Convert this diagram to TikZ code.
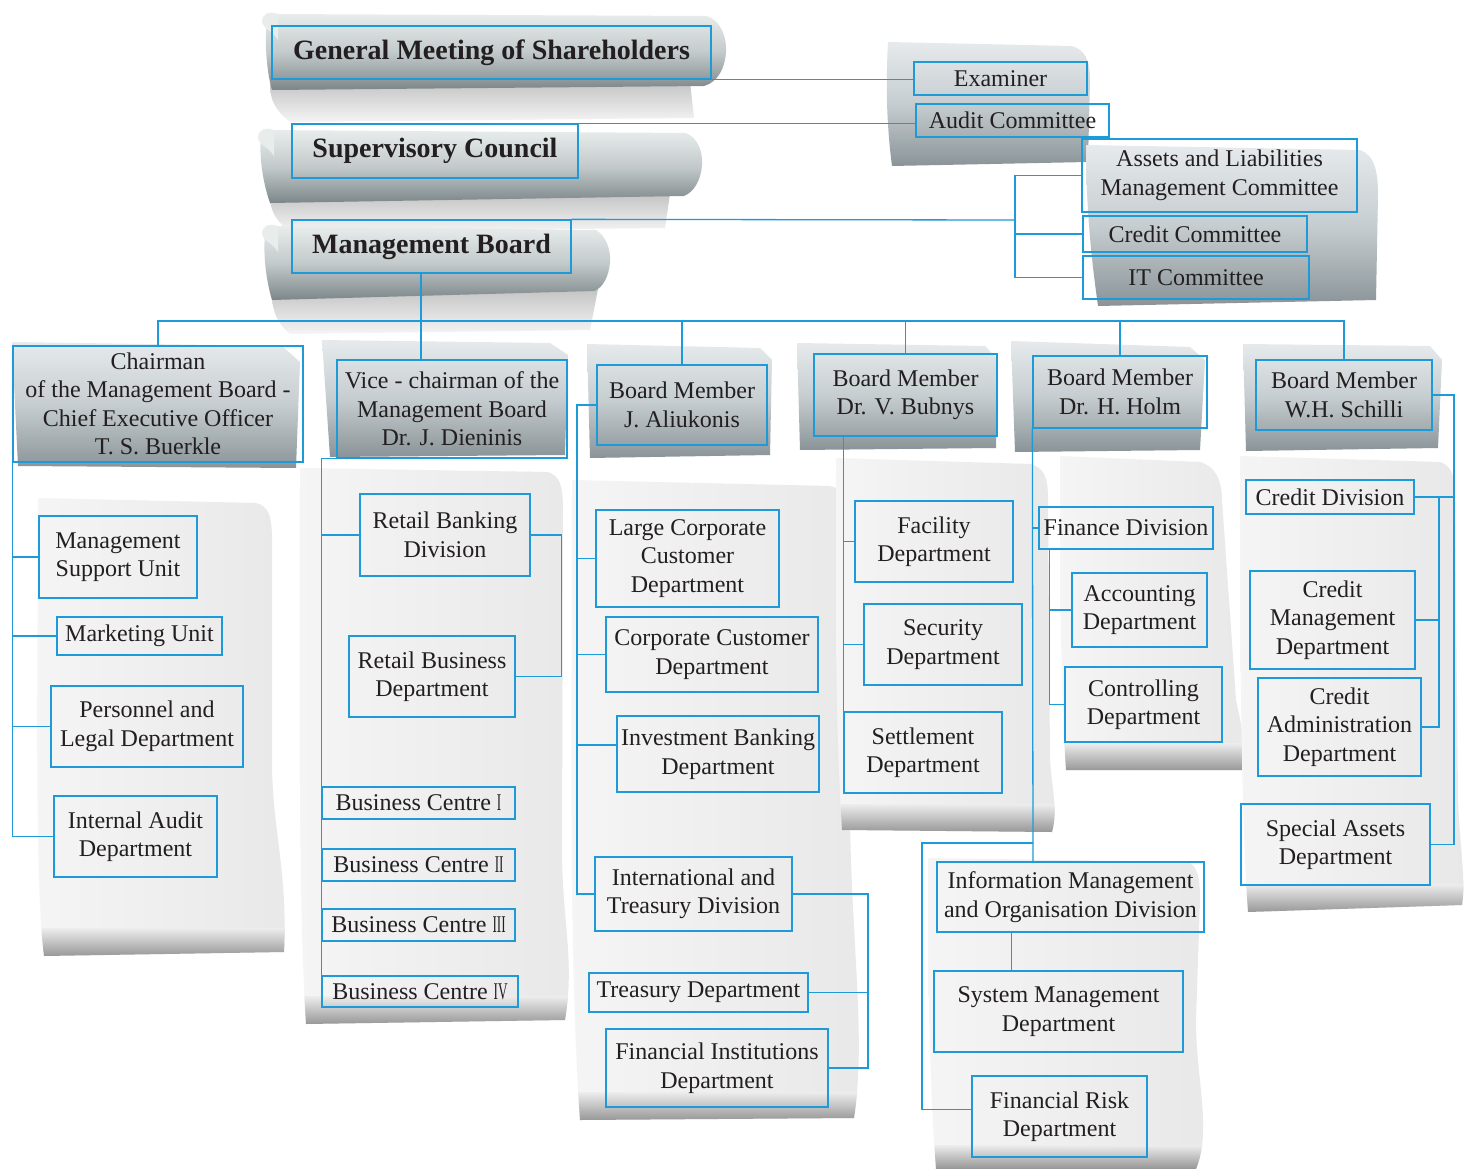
\documentclass[tikz,border=0pt]{standalone}
\usepackage{fontspec}
\usepackage{graphicx}
\setmainfont{Liberation Serif}
\definecolor{lb}{RGB}{28,155,216}
\definecolor{txt}{RGB}{35,31,32}
\definecolor{tubeT}{HTML}{E8EDEC}
\definecolor{tubeM}{HTML}{C3CACB}
\definecolor{tubeB}{HTML}{7C8689}
\definecolor{hdrT}{HTML}{E6EAEC}
\definecolor{hdrM}{HTML}{C6CDD0}
\definecolor{hdrB}{HTML}{8A9498}
\definecolor{papL}{HTML}{F5F5F5}
\definecolor{papR}{HTML}{E8E8E8}
\definecolor{pap}{HTML}{EDEDED}
\definecolor{papD}{HTML}{959595}
\definecolor{shd}{HTML}{C4C4C4}
\newcommand\regf{\fontsize{24}{28.5}\selectfont}
\newcommand\titf{\fontsize{28}{33}\selectfont\bfseries}
\newcommand\rn[1]{\scalebox{0.55}[1]{#1}}
\begin{document}
\begin{tikzpicture}[x=1pt,y=-1pt,
  box/.style={draw=lb, line width=1.3pt, align=center, inner sep=0pt, text=txt, font=\regf},
  tb/.style={box, font=\titf},
  wh/.style 2 args={minimum width=#1pt, minimum height=#2pt},
  conn/.style={draw=lb, line width=1.3pt},
  tube/.style={top color=tubeT, bottom color=tubeB, middle color=tubeM},
  hdr/.style={top color=hdrT, bottom color=hdrB, middle color=hdrM},
  shadow/.style={top color=shd, bottom color=white!92!gray},
  band/.style={top color=pap, bottom color=papD}]
\useasboundingbox (0,0) rectangle (1466,1169);
\fill[white] (0,0) rectangle (1466,1169);

% ---------- tube scrolls (top) ----------
\shade[shadow] (270,84) -- (690,82) -- (694,118) -- (290,122) .. controls (275,110) and (270,100) .. (270,84) -- cycle;
\shade[tube] (268,14) -- (706,16) .. controls (722,20) and (727,40) .. (726,52) .. controls (725,68) and (718,82) .. (704,86) -- (272,90) .. controls (266,70) and (264,35) .. (268,14) -- cycle;
\fill[tubeT] (262,22) .. controls (262,13) and (270,11) .. (278,14) -- (278,40) .. controls (272,30) and (264,30) .. (262,22) -- cycle;

\shade[shadow] (270,196) -- (670,194) -- (665,228) -- (290,232) .. controls (275,220) and (270,210) .. (270,196) -- cycle;
\shade[tube] (262,130) -- (686,133) .. controls (698,138) and (703,152) .. (702,165) .. controls (701,180) and (694,192) .. (684,196) -- (270,203) .. controls (262,180) and (258,150) .. (262,130) -- cycle;
\fill[tubeT] (258,138) .. controls (258,129) and (266,127) .. (274,130) -- (274,156) .. controls (268,146) and (260,146) .. (258,138) -- cycle;

\shade[shadow] (272,293) -- (598,289) -- (590,330) -- (290,334) .. controls (276,322) and (272,310) .. (272,293) -- cycle;
\shade[tube] (266,226) -- (596,230) .. controls (606,236) and (611,250) .. (610,262) .. controls (609,276) and (603,288) .. (594,291) -- (272,300) .. controls (266,280) and (262,250) .. (266,226) -- cycle;
\fill[tubeT] (262,234) .. controls (262,225) and (270,223) .. (278,226) -- (278,252) .. controls (272,242) and (264,242) .. (262,234) -- cycle;

% ---------- top right panels ----------
\shade[hdr] (888,42) -- (1072,46) .. controls (1085,50) and (1090,60) .. (1090,80) -- (1088,162) -- (892,166) .. controls (886,120) and (886,80) .. (888,42) -- cycle;
\shade[hdr] (1086,145) -- (1360,150) .. controls (1374,155) and (1378,170) .. (1378,195) -- (1376,300) -- (1098,306) .. controls (1090,250) and (1086,200) .. (1086,145) -- cycle;

% ---------- level-2 headers ----------
\shade[hdr] (12,342) -- (282,346) -- (300,362) -- (296,468) -- (18,466) -- cycle;
\shade[hdr] (322,340) -- (550,343) -- (568,355) -- (565,455) -- (330,457) -- cycle;
\shade[hdr] (587,344) -- (760,348) -- (772,360) -- (770,455) -- (590,458) -- cycle;
\shade[hdr] (797,343) -- (985,346) -- (998,360) -- (996,448) -- (800,450) -- cycle;
\shade[hdr] (1011,341) -- (1190,347) -- (1205,360) -- (1200,450) -- (1015,452) -- cycle;
\shade[hdr] (1243,344) -- (1430,346) -- (1442,360) -- (1438,448) -- (1246,451) -- cycle;

% ---------- column papers ----------
\begin{scope}
\clip (38,498) -- (256,503) .. controls (268,506) and (272,515) .. (272,540) -- (272,760) .. controls (272,830) and (288,870) .. (284,952) -- (44,956) .. controls (34,880) and (38,650) .. (38,498) -- cycle;
\shade[left color=papL, right color=papR] (30,490) rectangle (295,960);
\shade[band] (30,928) rectangle (295,957);
\end{scope}
\begin{scope}
\clip (300,468) -- (548,472) .. controls (560,476) and (563,486) .. (563,510) -- (562,850) .. controls (562,920) and (575,960) .. (565,1020) -- (306,1024) .. controls (298,900) and (300,700) .. (300,468) -- cycle;
\shade[left color=papL, right color=papR] (295,460) rectangle (580,1030);
\shade[band] (295,996) rectangle (580,1025);
\end{scope}
\begin{scope}
\clip (572,480) -- (830,486) .. controls (846,490) and (850,500) .. (850,530) -- (850,820) .. controls (852,950) and (866,1040) .. (854,1118) -- (580,1120) .. controls (568,950) and (572,700) .. (572,480) -- cycle;
\shade[left color=papL, right color=papR] (565,475) rectangle (870,1125);
\shade[band] (565,1092) rectangle (870,1121);
\end{scope}
\begin{scope}
\clip (836,458) -- (1030,464) .. controls (1045,468) and (1048,478) .. (1048,500) -- (1050,760) .. controls (1052,790) and (1058,810) .. (1052,832) -- (842,830) .. controls (834,700) and (836,560) .. (836,458) -- cycle;
\shade[left color=papL, right color=papR] (830,450) rectangle (1060,835);
\shade[band] (830,804) rectangle (1060,833);
\end{scope}
\begin{scope}
\clip (1060,456) -- (1200,462) .. controls (1215,466) and (1222,480) .. (1222,500) -- (1236,700) .. controls (1242,730) and (1248,750) .. (1242,770) -- (1066,770) .. controls (1060,680) and (1060,560) .. (1060,456) -- cycle;
\shade[left color=papL, right color=papR] (1055,450) rectangle (1250,775);
\shade[band] (1055,743) rectangle (1250,771);
\end{scope}
\begin{scope}
\clip (928,858) -- (1188,862) .. controls (1198,866) and (1200,880) .. (1200,900) -- (1196,1020) .. controls (1196,1080) and (1212,1130) .. (1196,1169) -- (936,1169) .. controls (928,1060) and (928,960) .. (928,858) -- cycle;
\shade[left color=papL, right color=papR] (920,850) rectangle (1215,1169);
\shade[band] (920,1145) rectangle (1215,1169);
\end{scope}
\begin{scope}
\clip (1240,456) -- (1440,462) .. controls (1452,466) and (1455,476) .. (1455,500) -- (1458,800) .. controls (1460,850) and (1466,880) .. (1462,905) -- (1248,912) .. controls (1240,800) and (1240,600) .. (1240,456) -- cycle;
\shade[left color=papL, right color=papR] (1235,450) rectangle (1466,915);
\shade[band] (1235,884) rectangle (1466,913);
\end{scope}

% ---------- nodes ----------
\node[tb, wh={439}{53}] (gm) at (491.5,52.5) {General Meeting of Shareholders};
\node[tb, wh={286}{54}] (sc) at (435,151) {Supervisory Council};
\node[tb, wh={279}{53}] (mb) at (431.5,246.5) {Management Board};
\node[box, wh={173}{33}] (ex) at (1000.5,78.5) {Examiner};
\node[box, wh={193}{33}] (ac) at (1012.5,120.5) {Audit Committee};
\node[box, wh={275}{73}] (alco) at (1219.5,175.5) {Assets and Liabilities\\Management Committee};
\node[box, wh={224}{36}] (cc) at (1195,234) {Credit Committee};
\node[box, wh={226}{43}] (itc) at (1196,277.5) {IT Committee};

\node[box, wh={290}{116}] (ch) at (158,404) {Chairman\\of the Management Board -\\Chief Executive Officer\\T. S. Buerkle};
\node[box, wh={230}{98}] (vc) at (452,409) {Vice - chairman of the\\Management Board\\Dr. J. Dieninis};
\node[box, wh={170}{80}] (al) at (682,405) {Board Member\\J. Aliukonis};
\node[box, wh={183}{82}] (bu) at (905.5,395) {Board Member\\Dr. V. Bubnys};
\node[box, wh={174}{72}] (ho) at (1120,392) {Board Member\\Dr. H. Holm};
\node[box, wh={176}{70}] (sch) at (1344,395) {Board Member\\W.H. Schilli};

\node[box, wh={158}{82}] (msu) at (118,557) {Management\\Support Unit};
\node[box, wh={165}{38}] (mu) at (139.5,636) {Marketing Unit};
\node[box, wh={192}{81}] (pl) at (147,726.5) {Personnel and\\Legal Department};
\node[box, wh={163}{81}] (ia) at (135.5,836.5) {Internal Audit\\Department};

\node[box, wh={170}{82}] (rbd) at (445,535) {Retail Banking\\Division};
\node[box, wh={166}{81}] (rbu) at (432,676.5) {Retail Business\\Department};
\node[box, wh={193}{32}] (bc1) at (418.5,803) {Business Centre \rn{I}};
\node[box, wh={193}{32}] (bc2) at (418.5,865) {Business Centre \rn{II}};
\node[box, wh={193}{32}] (bc3) at (418.5,925) {Business Centre \rn{III}};
\node[box, wh={196}{31}] (bc4) at (420,991.5) {Business Centre \rn{IV}};

\node[box, wh={183}{97}] (lcc) at (687.5,558.5) {Large Corporate\\Customer\\Department};
\node[box, wh={212}{75}] (ccd) at (712,654.5) {Corporate Customer\\Department};
\node[box, wh={202}{76}] (ibd) at (718,754) {Investment Banking\\Department};
\node[box, wh={197}{74}] (itd) at (693.5,894) {International and\\Treasury Division};
\node[box, wh={219}{39}] (td) at (698.5,992.5) {Treasury Department};
\node[box, wh={222}{78}] (fid) at (717,1068) {Financial Institutions\\Department};

\node[box, wh={158}{81}] (fac) at (934,541.5) {Facility\\Department};
\node[box, wh={158}{81}] (sec) at (943,644.5) {Security\\Department};
\node[box, wh={158}{81}] (set) at (923,752.5) {Settlement\\Department};

\node[box, wh={174}{42}] (fd) at (1126,528) {Finance Division};
\node[box, wh={135}{74}] (acc) at (1139.5,610) {Accounting\\Department};
\node[box, wh={157}{75}] (ctl) at (1143.5,704.5) {Controlling\\Department};
\node[box, wh={267}{70}] (im) at (1070.5,897) {Information Management\\and Organisation Division};
\node[box, wh={249}{81}] (sm) at (1058.5,1011.5) {System Management\\Department};
\node[box, wh={175}{81}] (frd) at (1059.5,1116.5) {Financial Risk\\Department};

\node[box, wh={168}{34}] (cd) at (1330,497) {Credit Division};
\node[box, wh={165}{98}] (cmd) at (1332.5,620) {Credit\\Management\\Department};
\node[box, wh={163}{98}] (cad) at (1339.5,727) {Credit\\Administration\\Department};
\node[box, wh={189}{81}] (sad) at (1335.5,844.5) {Special Assets\\Department};

% ---------- connectors ----------
\draw[conn] (gm.south east) -- (gm.south east -| ex.west);
\draw[conn] (sc.north east) -- (sc.north east -| ac.west);
\coordinate (cbus) at (1015,220);
\draw[conn] (mb.north east) -- (cbus);
\draw[conn] (alco.west) -| (cbus) |- (itc.west);
\draw[conn] (cc.west) -- (cc.west -| cbus);

\coordinate (mbus) at (421,321);
\draw[conn] (mbus |- mb.south) -- (mbus);
\draw[conn] (ch.north) -- (ch.north |- mbus) -- (sch.north |- mbus) -- (sch.north);
\draw[conn] (mbus) -- (mbus |- vc.north);
\draw[conn] (al.north) -- (al.north |- mbus);
\draw[conn] (bu.north) -- (bu.north |- mbus);
\draw[conn] (ho.north) -- (ho.north |- mbus);

\draw[conn] (ch.south west) |- (ia.west);
\draw[conn] (msu.west) -- (msu.west -| ch.south west);
\draw[conn] (mu.west) -- (mu.west -| ch.south west);
\draw[conn] (pl.west) -- (pl.west -| ch.south west);

\draw[conn] (vc.south west) -- (vc.south west -| bc4.west) -- (bc4.north west);
\draw[conn] (rbd.west) -- (rbd.west -| bc4.west);
\draw[conn] (rbd.east) -- ++(31,0) |- (rbu.east);

\coordinate (alsp) at (577,405);
\draw[conn] (al.west) -- (alsp) |- (itd.west);
\draw[conn] (lcc.west) -- (lcc.west -| alsp);
\draw[conn] (ccd.west) -- (ccd.west -| alsp);
\draw[conn] ([yshift=9pt]ibd.west) -- ([yshift=9pt]ibd.west -| alsp);
\coordinate (itsp) at (868,894);
\draw[conn] (itd.east) -- (itsp) |- (fid.east);
\draw[conn] (td.east) -- (td.east -| itsp);

\draw[conn] (set.north west |- bu.south) -- (set.north west);
\draw[conn] (fac.west) -- (fac.west -| set.west);
\draw[conn] (sec.west) -- (sec.west -| set.west);

\coordinate (hj) at (1033,843);
\draw[conn] (ho.south west) -- (hj |- im.north);
\draw[conn] (hj) -- ++(-111,0) |- ([yshift=7pt]frd.west);
\draw[conn] (fd.west) -- (fd.west -| hj);
\draw[conn] ([xshift=11pt]fd.south west) |- (ctl.west);
\draw[conn] (acc.west) -- ([xshift=11pt]fd.south west |- acc.west);
\draw[conn] ([xshift=75pt]im.south west) -- ([xshift=75pt]im.south west |- sm.north);

\coordinate (osp) at (1454,395);
\draw[conn] (sch.east) -- (osp) |- (sad.east);
\draw[conn] (cd.east) -- (cd.east -| osp);
\coordinate (isp) at (1439,497);
\draw[conn] (isp) |- (cad.east);
\draw[conn] (cmd.east) -- (cmd.east -| isp);
\end{tikzpicture}
\end{document}
